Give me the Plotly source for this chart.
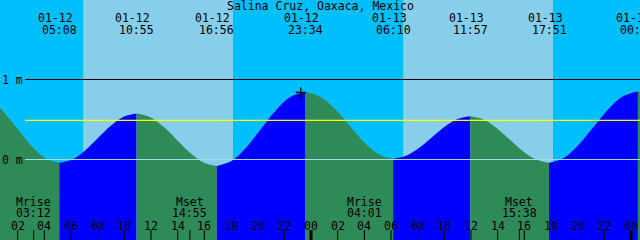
import plotly.graph_objects as go

# ---------------- data ----------------
title = "Salina Cruz, Oaxaca, Mexico"

# tide extremes (hours since 01-12 00:00)
ext_date = ["01-12", "01-12", "01-12", "01-12", "01-13", "01-13", "01-13", "01-14"]
ext_time = ["05:08", "10:55", "16:56", "23:34", "06:10", "11:57", "17:51", "00:31"]
ext_hours = [5.133, 10.917, 16.933, 23.567, 30.167, 35.95, 41.85, 48.517]

# tide curve samples (hours, metres)
curve_t = [-1.4, -0.311, 0.778, 1.867, 2.956, 4.044,
           5.133, 6.097, 7.061, 8.025, 8.989, 9.953,
           10.917, 11.919, 12.922, 13.925, 14.928, 15.931,
           16.933, 18.039, 19.144, 20.25, 21.356, 22.461,
           23.567, 24.667, 25.767, 26.867, 27.967, 29.067,
           30.167, 31.131, 32.094, 33.058, 34.022, 34.986,
           35.95, 36.933, 37.917, 38.9, 39.883, 40.867,
           41.85, 42.961, 44.072, 45.183, 46.294, 47.406,
           48.517, 49.6]
curve_h = [0.85, 0.79, 0.628, 0.405, 0.183, 0.02,
           -0.04, 0.001, 0.114, 0.268, 0.421, 0.534,
           0.575, 0.531, 0.411, 0.248, 0.084, -0.036,
           -0.08, -0.018, 0.151, 0.383, 0.614, 0.783,
           0.845, 0.789, 0.636, 0.428, 0.219, 0.066,
           0.01, 0.046, 0.143, 0.275, 0.408, 0.505,
           0.54, 0.501, 0.395, 0.25, 0.105, -0.001,
           -0.04, 0.020, 0.183, 0.405, 0.628, 0.79,
           0.85, 0.79]

# sun (daylight spans)
sunrise_hours = [6.9, 30.9]
sunset_hours = [18.15, 42.15]

# moon events
moon_label = ["Mrise", "Mset", "Mrise", "Mset"]
moon_time = ["03:12", "14:55", "04:01", "15:38"]
moon_hours = [3.2, 14.917, 28.017, 39.633]

# hour labels
label_hours = [2, 4, 6, 8, 10, 12, 14, 16, 18, 20, 22, 24,
               26, 28, 30, 32, 34, 36, 38, 40, 42, 44, 46, 48]
hour_labels = ["02", "04", "06", "08", "10", "12", "14", "16", "18", "20", "22", "00",
               "02", "04", "06", "08", "10", "12", "14", "16", "18", "20", "22", "00"]
# hour tick marks as seen in the picture
tick_hours = [2, 4, 6, 8, 10, 12, 14, 16, 22, 24,
              26, 28, 30, 32, 34, 36, 38, 40, 46, 48]

# datum lines
level_vals = [1.0, 0.0]
level_labels = ["1 m", "0 m"]
mean_level = 0.49

# current-time mark
now_hours = 23.23
now_h = 0.8375

# ---------------- styling ----------------
W, H = 640, 240
T0 = 0.675
X_RANGE = [T0, T0 + 48]
Y_TOP = 1.99375
Y_RANGE = [Y_TOP - 3.0, Y_TOP]
NIGHT = "#00BFFF"
DAY = "#87CEEB"
RISE = "#0000FF"
FALL = "#2E8B57"
FONT = dict(family="DejaVu Sans Mono", size=11.5, color="black")


def py(p):
    return 1 - p / H


fig = go.Figure()

# tide segments
bounds = [0] + [i for i, t in enumerate(curve_t) if t in ext_hours] + [len(curve_t) - 1]
bounds = sorted(set(bounds))
for a, b in zip(bounds[:-1], bounds[1:]):
    xs = curve_t[a:b + 1]
    ys = curve_h[a:b + 1]
    col = RISE if ys[-1] > ys[0] else FALL
    fig.add_trace(go.Scatter(x=[xs[0], xs[-1]], y=[Y_RANGE[0] - 0.1] * 2, mode="lines",
                             line=dict(width=0, color=col), hoverinfo="skip", showlegend=False))
    fig.add_trace(go.Scatter(x=xs, y=ys, mode="lines", fill="tonexty", fillcolor=col,
                             line=dict(width=0, color=col, shape="spline"),
                             hoverinfo="skip", showlegend=False))

# current time mark
fig.add_trace(go.Scatter(x=[now_hours], y=[now_h], mode="markers",
                         marker=dict(symbol="cross-thin", size=7, line=dict(width=1.3, color="black")),
                         hoverinfo="skip", showlegend=False))

shapes = []
for sr, ss in zip(sunrise_hours, sunset_hours):
    shapes.append(dict(type="rect", xref="x", yref="paper", x0=sr, x1=ss, y0=0, y1=1,
                       fillcolor=DAY, line=dict(width=0), layer="below"))

# datum lines
shapes.append(dict(type="line", xref="paper", yref="y", x0=25 / W, x1=1, y0=level_vals[0], y1=level_vals[0],
                   line=dict(color="black", width=1), layer="above"))
shapes.append(dict(type="line", xref="paper", yref="y", x0=25 / W, x1=1, y0=level_vals[1], y1=level_vals[1],
                   line=dict(color="#A6D9EE", width=1), layer="above"))
shapes.append(dict(type="line", xref="paper", yref="y", x0=25 / W, x1=1, y0=mean_level, y1=mean_level,
                   line=dict(color="#FFFF00", width=1.3), layer="above"))

# ticks
for t in tick_hours:
    bold = (t % 24 == 0)
    shapes.append(dict(type="line", xref="x", yref="paper", x0=t, x1=t, y0=0, y1=py(230),
                       line=dict(color="black", width=3 if bold else 1), layer="above"))
for t in moon_hours:
    shapes.append(dict(type="line", xref="x", yref="paper", x0=t, x1=t, y0=0, y1=py(230),
                       line=dict(color="black", width=1), layer="above"))

ann = []
ann.append(dict(text=title, x=0.5, xref="paper", y=py(6.2), yref="paper", showarrow=False,
                font=FONT, xanchor="center", yanchor="middle", borderpad=0))
for d, tm, t in zip(ext_date, ext_time, ext_hours):
    ann.append(dict(text=d, x=t, xref="x", y=py(17.6), yref="paper", showarrow=False, xshift=-4,
                    font=FONT, xanchor="center", yanchor="middle", borderpad=0))
    ann.append(dict(text=tm, x=t, xref="x", y=py(29.6), yref="paper", showarrow=False,
                    font=FONT, xanchor="center", yanchor="middle", borderpad=0))
for lab, tm, t in zip(moon_label, moon_time, moon_hours):
    ann.append(dict(text=lab, x=t, xref="x", y=py(201.6), yref="paper", showarrow=False,
                    font=FONT, xanchor="center", yanchor="middle", borderpad=0))
    ann.append(dict(text=tm, x=t, xref="x", y=py(213.4), yref="paper", showarrow=False,
                    font=FONT, xanchor="center", yanchor="middle", borderpad=0))
for lab, t in zip(hour_labels, label_hours):
    ann.append(dict(text=lab, x=t, xref="x", y=py(225.6), yref="paper", showarrow=False,
                    font=FONT, xanchor="center", yanchor="middle", borderpad=0))
for lab, v in zip(level_labels, level_vals):
    ann.append(dict(text=lab, x=1 / W, xref="paper", y=v, yref="y", showarrow=False,
                    font=FONT, xanchor="left", yanchor="middle", borderpad=0))

fig.update_layout(
    width=W, height=H, margin=dict(l=0, r=0, t=0, b=0, pad=0),
    paper_bgcolor=NIGHT, plot_bgcolor=NIGHT,
    xaxis=dict(range=X_RANGE, visible=False, fixedrange=True),
    yaxis=dict(range=Y_RANGE, visible=False, fixedrange=True),
    shapes=shapes, annotations=ann, showlegend=False,
)
fig.write_html("out.html", config={"displayModeBar": False})
